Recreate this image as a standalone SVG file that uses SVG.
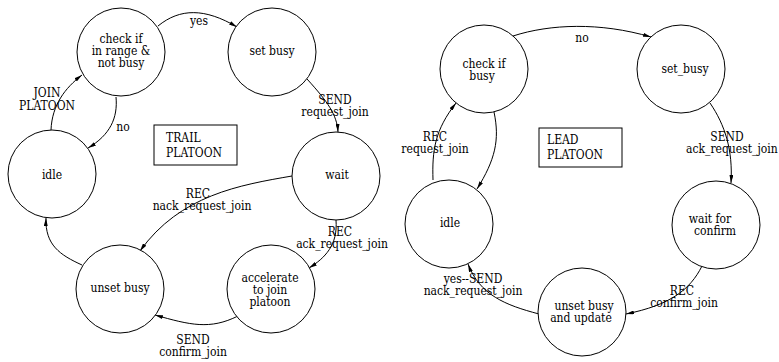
<svg xmlns="http://www.w3.org/2000/svg" width="779" height="362" viewBox="0 0 779 362">
  <style>
    .state { fill: #fff; stroke: #000; stroke-width: 1; }
    .box { fill: none; stroke: #000; stroke-width: 1; }
    .edge { fill: none; stroke: #000; stroke-width: 1; marker-end: url(#arrow); }
    text { font-family: "DejaVu Serif Condensed", "DejaVu Serif", serif; font-stretch: condensed; font-size: 12px; fill: #000; }
    .c { text-anchor: middle; }
  </style>
  <defs>
    <marker id="arrow" viewBox="0 0 8 4" refX="8" refY="2" markerWidth="8" markerHeight="4" markerUnits="userSpaceOnUse" orient="auto">
      <path d="M0,0 L8,2 L0,4 Z" fill="#000"/>
    </marker>
  </defs>
  <rect width="779" height="362" fill="#fff"/>

  <!-- connectors -->
  <g id="connectors">
    <!-- trail platoon -->
    <path class="edge" d="M158,26 C180,8 205,8 237,27"/>
    <path class="edge" d="M307,79 C328,102 337,115 338,132"/>
    <path class="edge" d="M292,176 C240,185 180,195 140,251"/>
    <path class="edge" d="M336,220 C338,245 325,258 309,268"/>
    <path class="edge" d="M238,316 C210,330 190,325 155,315"/>
    <path class="edge" d="M82,265 C60,255 45,245 46,218"/>
    <path class="edge" d="M51,130 C52,105 65,88 82,75"/>
    <path class="edge" d="M116,97 C118,118 110,135 88,148"/>
    <!-- lead platoon -->
    <path class="edge" d="M513,36 C550,24 600,22 651,37"/>
    <path class="edge" d="M710,103 C725,125 733,150 731,183"/>
    <path class="edge" d="M702,266 C690,290 670,305 626,314"/>
    <path class="edge" d="M539,314 C505,305 480,295 468,264"/>
    <path class="edge" d="M433,180 C432,150 435,130 456,103"/>
    <path class="edge" d="M494,112 C500,140 495,160 477,189"/>
  </g>

  <!-- transition labels -->
  <g id="labels">
    <text class="c" x="199" y="25">yes</text>
    <text class="c" x="335" y="104">SEND</text>
    <text class="c" x="335" y="116">request_join</text>
    <text class="c" x="123" y="131">no</text>
    <text class="c" x="47" y="97">JOIN</text>
    <text class="c" x="47" y="110">PLATOON</text>
    <text class="c" x="198" y="198">REC</text>
    <text class="c" x="202" y="210">nack_request_join</text>
    <text class="c" x="340" y="236">REC</text>
    <text class="c" x="342" y="248">ack_request_join</text>
    <text class="c" x="193" y="344">SEND</text>
    <text class="c" x="193" y="356">confirm_join</text>
    <text class="c" x="582" y="42">no</text>
    <text class="c" x="435" y="141">REC</text>
    <text class="c" x="435" y="153">request_join</text>
    <text class="c" x="727" y="141">SEND</text>
    <text x="686" y="153">ack_request_join</text>
    <text class="c" x="473" y="283">yes--SEND</text>
    <text class="c" x="473" y="295">nack_request_join</text>
    <text class="c" x="682" y="295">REC</text>
    <text class="c" x="684" y="307">confirm_join</text>
  </g>

  <!-- trail platoon states -->
  <g id="trail-check">
    <circle class="state" cx="121" cy="52" r="44"/>
    <text class="c" x="121" y="43">check if</text>
    <text class="c" x="121" y="55">in range &amp;</text>
    <text class="c" x="121" y="67">not busy</text>
  </g>
  <g id="trail-set-busy">
    <circle class="state" cx="272" cy="52" r="44"/>
    <text class="c" x="272" y="55">set busy</text>
  </g>
  <g id="trail-idle">
    <circle class="state" cx="52" cy="174" r="44"/>
    <text class="c" x="52" y="179">idle</text>
  </g>
  <g id="trail-wait">
    <circle class="state" cx="336" cy="176" r="44"/>
    <text class="c" x="337" y="179">wait</text>
  </g>
  <g id="trail-unset-busy">
    <circle class="state" cx="120" cy="289" r="44"/>
    <text class="c" x="120" y="292">unset busy</text>
  </g>
  <g id="trail-accelerate">
    <circle class="state" cx="271" cy="289" r="44"/>
    <text class="c" x="270" y="282">accelerate</text>
    <text class="c" x="270" y="294">to join</text>
    <text class="c" x="270" y="306">platoon</text>
  </g>
  <g id="trail-title">
    <rect class="box" x="154" y="125" width="83" height="40"/>
    <text x="166" y="142">TRAIL</text>
    <text x="166" y="157">PLATOON</text>
  </g>

  <!-- lead platoon states -->
  <g id="lead-check">
    <circle class="state" cx="484" cy="69" r="44"/>
    <text class="c" x="484" y="68">check if</text>
    <text class="c" x="482" y="80">busy</text>
  </g>
  <g id="lead-set-busy">
    <circle class="state" cx="681" cy="69" r="44"/>
    <text class="c" x="685" y="73">set_busy</text>
  </g>
  <g id="lead-idle">
    <circle class="state" cx="449" cy="224" r="44"/>
    <text class="c" x="450" y="227">idle</text>
  </g>
  <g id="lead-wait">
    <circle class="state" cx="716" cy="225" r="44"/>
    <text class="c" x="710" y="223">wait for</text>
    <text class="c" x="715" y="235">confirm</text>
  </g>
  <g id="lead-unset-busy">
    <circle class="state" cx="582" cy="312" r="44"/>
    <text class="c" x="584" y="310">unset busy</text>
    <text class="c" x="581" y="322">and update</text>
  </g>
  <g id="lead-title">
    <rect class="box" x="539" y="128" width="83" height="39"/>
    <text x="547" y="144">LEAD</text>
    <text x="547" y="159">PLATOON</text>
  </g>
</svg>
